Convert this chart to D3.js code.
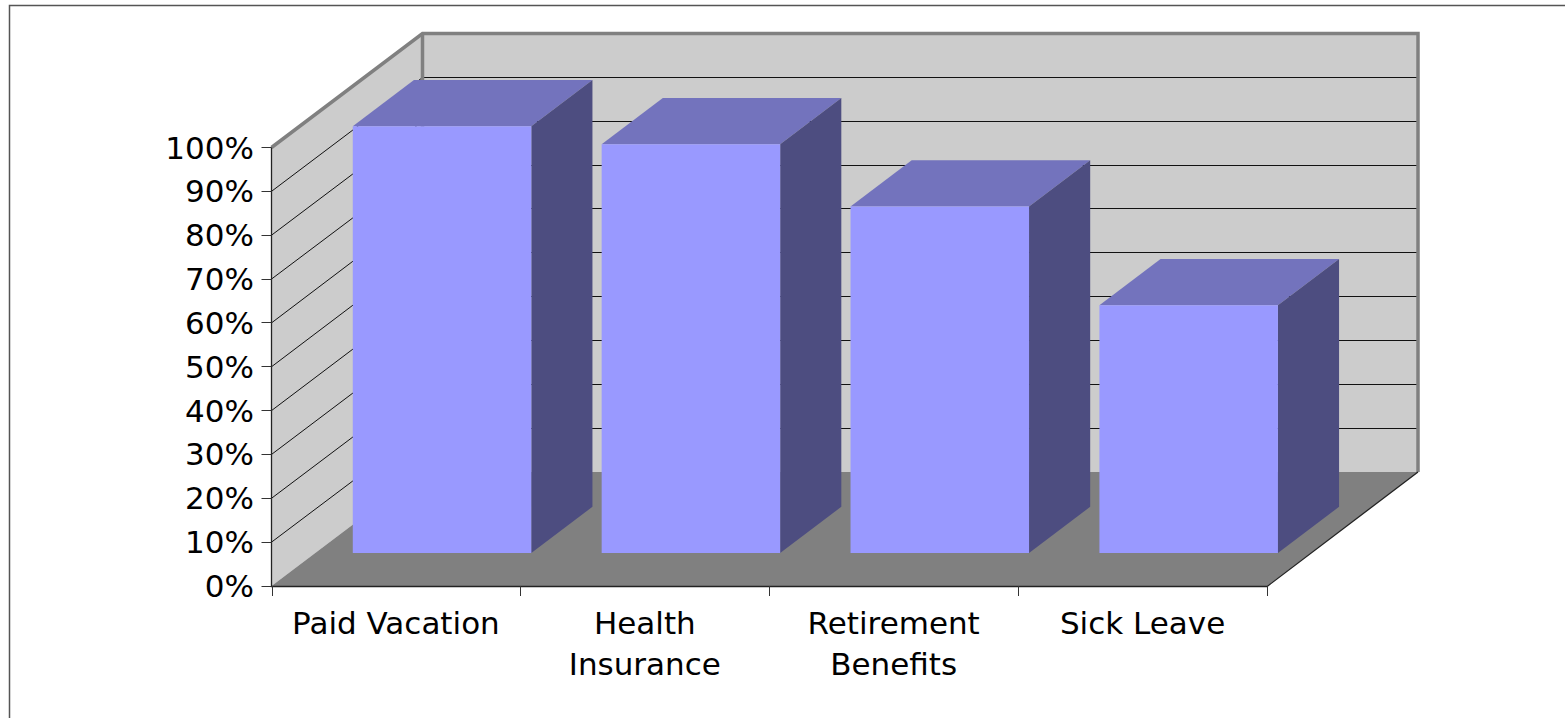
<!DOCTYPE html>
<html><head><meta charset="utf-8">
<script src="https://cdn.jsdelivr.net/npm/d3@7"></script>
<style>html,body{margin:0;padding:0;background:#fff}svg{display:block}text{font-family:"DejaVu Sans",sans-serif;font-size:31px;fill:#000}</style>
</head><body><svg id="c" width="1565" height="718"></svg>
<script>
const categories=[["Paid Vacation"],["Health","Insurance"],["Retirement","Benefits"],["Sick Leave"]];
const values=[97.3,93.2,79,56.5];
const yTicks=[0,10,20,30,40,50,60,70,80,90,100];
const svg=d3.select("#c");
const x=d3.scaleBand().domain(d3.range(categories.length)).range([271.5,1267]);
const y=d3.scaleLinear().domain([0,100]).range([586,147.5]);
const dz=d3.scaleLinear().domain([0,1]).range([0,151]);
const hz=d3.scaleLinear().domain([0,1]).range([0,114]);
const P=(px,py,z)=>[px+dz(z),py-hz(z)];
const poly=pts=>"M"+pts.map(p=>p.join(",")).join("L")+"Z";
const x0=x.range()[0],x1=x.range()[1],y0=y(0),yT=y(100);
// frame
svg.append("path").attr("d","M9.5,718V5.5H1565").attr("fill","none").attr("stroke","#555").attr("stroke-width",1.5);
// walls & floor
svg.append("path").attr("d",poly([P(x0,y0,0),P(x0,yT,0),P(x0,yT,1),P(x0,y0,1)])).attr("fill","#ccc");
svg.append("path").attr("d",poly([P(x0,y0,1),P(x0,yT,1),P(x1,yT,1),P(x1,y0,1)])).attr("fill","#ccc");
svg.append("path").attr("d",poly([P(x0,y0,0),P(x0,y0,1),P(x1,y0,1),P(x1,y0,0)])).attr("fill","#808080");
// gridlines
const grid=yTicks.filter(t=>t>0&&t<100);
const crisp=v=>Math.floor(v)+.5;
svg.append("g").selectAll("path").data(grid).join("path")
 .attr("d",t=>{const yb=crisp(y(t)-hz(1));return d3.line()([[x0,y(t)],[x0+dz(1),yb],[x1+dz(1),yb]]);})
 .attr("fill","none").attr("stroke","#111").attr("stroke-width",1);
// wall borders
svg.append("path").attr("d",d3.line()([P(x0,yT,0),P(x0,yT,1),P(x1,yT,1),P(x1,y0,1)])).attr("fill","none").attr("stroke","#808080").attr("stroke-width",3.5);
svg.append("path").attr("d",d3.line()([P(x0,yT,1),P(x0,y0,1)])).attr("fill","none").attr("stroke","#808080").attr("stroke-width",3.5);
// bars
const zA=0.29,zB=0.695,inset=37.5,barW=178.5;
const g=svg.append("g").selectAll("g").data(values).join("g");
const L=i=>x(i)+inset, R=i=>L(i)+barW;
g.append("path").attr("d",(v,i)=>poly([P(L(i),y(v),zA),P(R(i),y(v),zA),P(R(i),y(v),zB),P(L(i),y(v),zB)])).attr("fill","#7373bd");
g.append("path").attr("d",(v,i)=>poly([P(R(i),y0,zA),P(R(i),y(v),zA),P(R(i),y(v),zB),P(R(i),y0,zB)])).attr("fill","#4d4d80");
g.append("path").attr("d",(v,i)=>poly([P(L(i),y0,zA),P(L(i),y(v),zA),P(R(i),y(v),zA),P(R(i),y0,zA)])).attr("fill","#9999ff");
// axes
svg.append("path").attr("d",d3.line()([[x0,yT],[x0,y0+.5],[x1,y0+.5],P(x1,y0,1)])).attr("fill","none").attr("stroke","#222").attr("stroke-width",1.3);
svg.append("g").selectAll("line").data(yTicks).join("line").attr("x1",x0-10).attr("x2",x0).attr("y1",d=>crisp(y(d))).attr("y2",d=>crisp(y(d))).attr("stroke","#333");
svg.append("g").selectAll("line").data(d3.range(categories.length+1)).join("line")
 .attr("x1",i=>Math.round(x0+i*x.step())+.5).attr("x2",i=>Math.round(x0+i*x.step())+.5).attr("y1",y0).attr("y2",y0+10).attr("stroke","#333");
svg.append("g").selectAll("text").data(yTicks).join("text").attr("x",254).attr("y",d=>y(d)+11).attr("text-anchor","end").text(d=>d+"%");
svg.append("g").selectAll("text").data(categories).join("text").attr("text-anchor","middle")
 .each(function(c,i){d3.select(this).selectAll("tspan").data(c).join("tspan").attr("x",x(i)+x.bandwidth()/2).attr("y",(d,j)=>634+j*41).text(d=>d)});
</script></body></html>
